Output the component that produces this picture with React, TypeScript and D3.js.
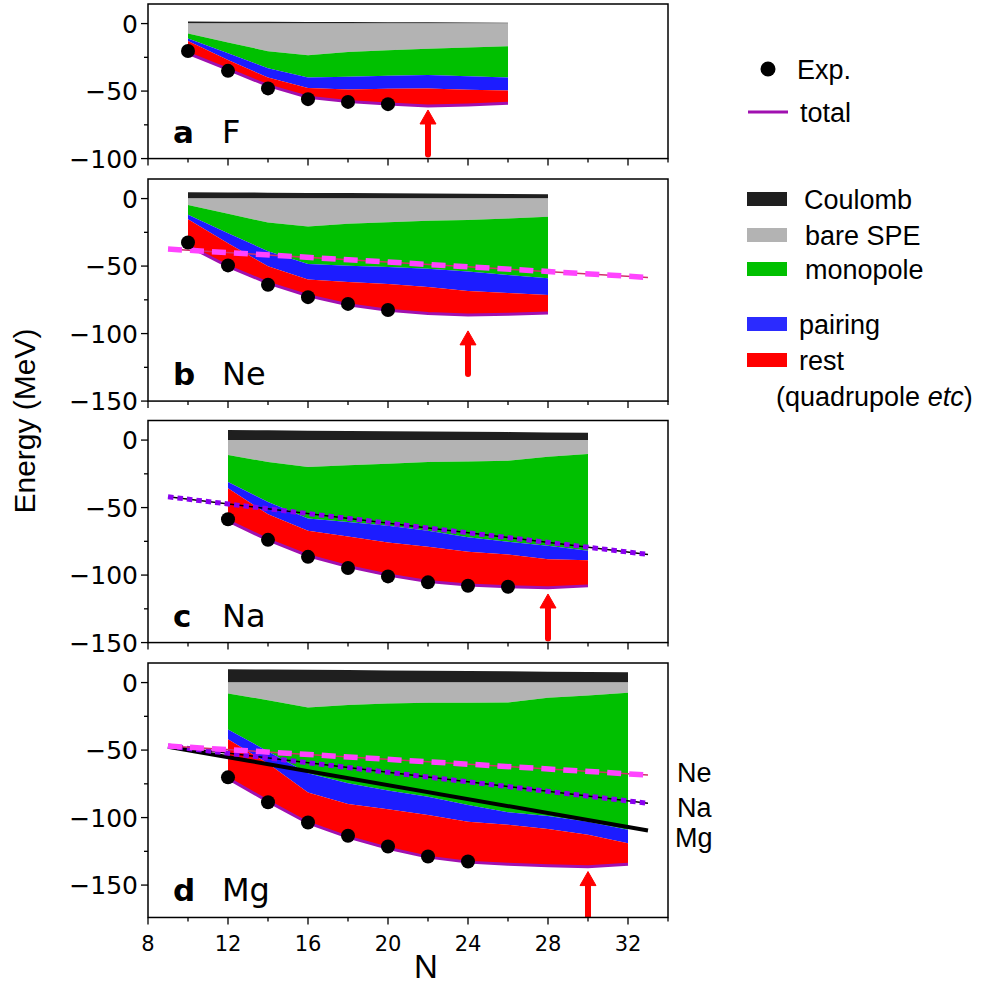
import React from "react";
import * as d3 from "d3";

// ---------------- data ----------------
const N_F = [10, 12, 14, 16, 18, 20, 22, 24, 26];
const F_coul = [1.5, 1.4, 1.3, 1.2, 1.1, 1.0, 0.9, 0.8, 0.7];
const F_spe = [-7.4, -14, -20.5, -23.5, -21, -19.8, -18.6, -17.8, -16.8];
const F_mono = [-11.1, -22, -33, -40, -39.4, -38.6, -38, -39, -40];
const F_pair = [-12.9, -27, -40, -47.8, -48.8, -48.3, -48, -49, -49.5];
const F_total = [-22, -34, -46, -54.5, -57.7, -59.6, -61, -60.3, -59];
const F_expN = [10, 12, 14, 16, 18, 20];
const F_exp = [-20.3, -35, -48, -56, -58, -59.7];

const N_Ne = [10, 12, 14, 16, 18, 20, 22, 24, 26, 28];
const Ne_coul = [4.7, 4.5, 4.4, 4.2, 4.1, 4.0, 3.8, 3.6, 3.4, 3.2];
const Ne_spe = [-4.7, -11.3, -17.7, -20.7, -18.7, -17.5, -16.5, -15.8, -14.8, -13.5];
const Ne_mono = [-12, -25.6, -39, -48.5, -49.8, -50.7, -52, -54, -56.7, -59];
const Ne_pair = [-15.3, -33, -50.2, -60, -61.8, -63.3, -65.5, -68.5, -70, -71.4];
const Ne_total = [-35, -50.2, -62.6, -72, -78.6, -82.8, -85.2, -86.2, -85.7, -84.7];
const Ne_expN = [10, 12, 14, 16, 18, 20];
const Ne_exp = [-32.5, -49.5, -63.8, -73, -78, -82.5];

const N_Na = [12, 14, 16, 18, 20, 22, 24, 26, 28, 30];
const Na_coul = [7.4, 7.2, 7.0, 6.8, 6.6, 6.3, 6.1, 5.9, 5.6, 5.4];
const Na_spe = [-11, -16.3, -20, -18.7, -17.5, -16.3, -15.8, -15.3, -12.3, -10.3];
const Na_mono = [-31, -45.8, -58, -60.6, -63.5, -67.2, -72, -75.4, -78.3, -82];
const Na_pair = [-35.7, -55, -67.2, -71.4, -75.9, -79, -82.8, -84.7, -88.2, -89];
const Na_total = [-59.8, -74, -85.7, -93.6, -100, -104.7, -107.4, -108.6, -109.4, -108];
const Na_expN = [12, 14, 16, 18, 20, 22, 24, 26];
const Na_exp = [-58.6, -73.9, -86.5, -94.8, -101, -105.4, -107.9, -108.6];

const N_Mg = [12, 14, 16, 18, 20, 22, 24, 26, 28, 30, 32];
const Mg_coul = [9.9, 9.7, 9.5, 9.3, 9.0, 8.8, 8.6, 8.4, 8.1, 7.9, 7.6];
const Mg_spe = [-8.1, -13, -18.5, -16.7, -15.5, -15, -15, -14.8, -11.3, -9.6, -7.6];
const Mg_mono = [-34.7, -51, -67.2, -74.6, -80, -84.5, -90.6, -96, -98.8, -103, -109];
const Mg_pair = [-42, -60, -81.5, -90, -93.8, -98, -103, -105.4, -108.4, -112.8, -119];
const Mg_total = [-71, -88, -104, -114.5, -122.7, -129.3, -133, -134.5, -135.7, -136.5, -134.5];
const Mg_expN = [12, 14, 16, 18, 20, 22, 24];
const Mg_exp = [-70.2, -88.7, -103.7, -113.5, -121.4, -128.8, -132.5];

// straight reference lines (N = 9 .. 33)
const refLineN = [9, 33];
const refNe_b = [-37.4, -58.4];
const refNa_c = [-42, -84.7];
const refNe_d = [-47, -68.5];
const refNa_d = [-47, -89.4];
const refMg_d = [-47.5, -109.6];

// drip-line arrows: N, head energy, tail energy
const arrowN = [22, 24, 28, 30];
const arrowHead = [-64, -98, -114, -140];
const arrowTail = [-97, -130, -147, -173];

const panelLetters = ["a", "b", "c", "d"];
const panelElements = ["F", "Ne", "Na", "Mg"];
const xTickLabels = [8, 12, 16, 20, 24, 28, 32];

// ---------------- styling ----------------
const C_COUL = "#1f1f1f";
const C_SPE = "#b3b3b3";
const C_MONO = "#00c000";
const C_PAIR = "#1c1cff";
const C_REST = "#ff0000";
const C_TOTAL = "#a010b0";
const SANS = "'Liberation Sans', Arial, sans-serif";
const DJ = "'DejaVu Sans', sans-serif";

const PX_PER_MEV = 1.35;
const Y_MAX = 14.5;

type LineDef = { kind: "Ne" | "Na" | "Mg"; y: number[] };

const panels = [
  { top: 4, yMin: -100, N: N_F, coul: F_coul, spe: F_spe, mono: F_mono, pair: F_pair, total: F_total, expN: F_expN, exp: F_exp, lines: [] as LineDef[] },
  { top: 179, yMin: -150, N: N_Ne, coul: Ne_coul, spe: Ne_spe, mono: Ne_mono, pair: Ne_pair, total: Ne_total, expN: Ne_expN, exp: Ne_exp, lines: [{ kind: "Ne", y: refNe_b }] as LineDef[] },
  { top: 420.5, yMin: -150, N: N_Na, coul: Na_coul, spe: Na_spe, mono: Na_mono, pair: Na_pair, total: Na_total, expN: Na_expN, exp: Na_exp, lines: [{ kind: "Na", y: refNa_c }] as LineDef[] },
  { top: 663, yMin: -174, N: N_Mg, coul: Mg_coul, spe: Mg_spe, mono: Mg_mono, pair: Mg_pair, total: Mg_total, expN: Mg_expN, exp: Mg_exp, lines: [{ kind: "Mg", y: refMg_d }, { kind: "Na", y: refNa_d }, { kind: "Ne", y: refNe_d }] as LineDef[] },
];

const X0 = 148;
const X1 = 668;
const x = d3.scaleLinear().domain([8, 34]).range([X0, X1]);

function RefLine({ def, y }: { def: LineDef; y: d3.ScaleLinear<number, number> }) {
  const pts: [number, number][] = refLineN.map((n, i) => [x(n), y(def.y[i])]);
  const d = d3.line()(pts) as string;
  if (def.kind === "Mg") {
    return <path d={d} stroke="#000" strokeWidth={4} fill="none" />;
  }
  if (def.kind === "Ne") {
    return (
      <g>
        <path d={d} stroke="#d0306a" strokeWidth={1.5} fill="none" />
        <path d={d} stroke="#ff44ff" strokeWidth={5.5} strokeDasharray="14 8" fill="none" />
      </g>
    );
  }
  return (
    <g>
      <path d={d} stroke="#000" strokeWidth={1.5} fill="none" />
      <path d={d} stroke="#8a00f0" strokeWidth={5} strokeDasharray="5.5 4" fill="none" />
    </g>
  );
}

function Panel({ p, idx }: { p: (typeof panels)[number]; idx: number }) {
  const bottom = p.top + (Y_MAX - p.yMin) * PX_PER_MEV;
  const y = d3.scaleLinear().domain([p.yMin, Y_MAX]).range([bottom, p.top]);
  const band = (lo: number[], hi: number[]) =>
    d3
      .area<number>()
      .x((n) => x(n))
      .y0((_, i) => y(lo[i]))
      .y1((_, i) => y(hi[i]))(p.N) as string;
  const zeros = p.N.map(() => 0);
  const totalLine = d3
    .line<number>()
    .x((n) => x(n))
    .y((_, i) => y(p.total[i]))(p.N) as string;

  const yTicks = d3.range(0, p.yMin - 1, -25);
  const xTicks = d3.range(8, 35, 2);
  const isLast = idx === panels.length - 1;
  const clipId = `clip${idx}`;

  const aX = x(arrowN[idx]);
  const aHead = y(arrowHead[idx]);
  const aTail = y(arrowTail[idx]);

  return (
    <g>
      <defs>
        <clipPath id={clipId}>
          <rect x={X0} y={p.top} width={X1 - X0} height={bottom - p.top} />
        </clipPath>
      </defs>
      <g clipPath={`url(#${clipId})`}>
        <path d={band(zeros, p.coul)} fill={C_COUL} />
        <path d={band(p.spe, zeros)} fill={C_SPE} />
        <path d={band(p.mono, p.spe)} fill={C_MONO} />
        <path d={band(p.pair, p.mono)} fill={C_PAIR} />
        <path d={band(p.total, p.pair)} fill={C_REST} />
        <path d={totalLine} stroke={C_TOTAL} strokeWidth={3} fill="none" />
        {p.lines.map((l, i) => (
          <RefLine key={i} def={l} y={y} />
        ))}
        {p.expN.map((n, i) => (
          <circle key={i} cx={x(n)} cy={y(p.exp[i])} r={7} fill="#000" />
        ))}
        {/* arrow */}
        <line x1={aX} x2={aX} y1={aTail} y2={aHead + 11} stroke="#ff0000" strokeWidth={6} strokeLinecap="round" />
        <path d={`M${aX},${aHead} L${aX - 8},${aHead + 14} L${aX + 8},${aHead + 14} Z`} fill="#ff0000" stroke="#ff0000" strokeWidth={1} strokeLinejoin="round" />
      </g>
      {/* frame */}
      <rect x={X0} y={p.top} width={X1 - X0} height={bottom - p.top} fill="none" stroke="#000" strokeWidth={1.5} />
      {/* y ticks */}
      {yTicks.map((t) => {
        const major = t % 50 === 0;
        return (
          <g key={t}>
            <line x1={X0} x2={X0 - (major ? 7 : 4)} y1={y(t)} y2={y(t)} stroke="#000" strokeWidth={1.3} />
            {major && (
              <text x={X0 - 10} y={y(t)} dy="0.36em" textAnchor="end" fontFamily={DJ} fontSize={25} fill="#000">
                {t < 0 ? `\u2212${-t}` : `${t}`}
              </text>
            )}
          </g>
        );
      })}
      {/* x ticks */}
      {xTicks.map((t) => {
        const major = (t - 8) % 4 === 0;
        return <line key={t} x1={x(t)} x2={x(t)} y1={bottom} y2={bottom + (major ? 7 : 4)} stroke="#000" strokeWidth={1.3} />;
      })}
      {isLast &&
        xTickLabels.map((t) => (
          <text key={t} x={x(t)} y={bottom + 34} textAnchor="middle" fontFamily={DJ} fontSize={21} fill="#000">
            {t}
          </text>
        ))}
      {/* panel label */}
      <text x={173} y={bottom - 16} fontFamily={DJ} fontSize={31} fontWeight="bold" fill="#000">
        {panelLetters[idx]}
      </text>
      <text x={222} y={bottom - 16} fontFamily={DJ} fontSize={32} fill="#000">
        {panelElements[idx]}
      </text>
    </g>
  );
}

const legendPatches = [
  { label: "Coulomb", color: C_COUL, cy: 199, tx: 804 },
  { label: "bare SPE", color: C_SPE, cy: 235, tx: 805 },
  { label: "monopole", color: C_MONO, cy: 269, tx: 805 },
  { label: "pairing", color: "#2b2bff", cy: 324, tx: 799 },
  { label: "rest", color: C_REST, cy: 360, tx: 799 },
];

export default function App() {
  return (
    <svg
      width={985}
      height={984}
      viewBox="0 0 985 984"
      style={{ position: "absolute", left: 0, top: 0, background: "#fff" }}
    >
      <rect width={985} height={984} fill="#fff" />
      {panels.map((p, i) => (
        <Panel key={i} p={p} idx={i} />
      ))}
      {/* axis labels */}
      <text transform="translate(35,421) rotate(-90)" textAnchor="middle" fontFamily={SANS} fontSize={30} fill="#000">
        Energy (MeV)
      </text>
      <text x={426} y={978} textAnchor="middle" fontFamily={SANS} fontSize={33} fill="#000">
        N
      </text>
      {/* right-hand labels for reference lines */}
      <text x={677} y={782} fontFamily={SANS} fontSize={27} fill="#000">Ne</text>
      <text x={677} y={817} fontFamily={SANS} fontSize={27} fill="#000">Na</text>
      <text x={675} y={847} fontFamily={SANS} fontSize={27} fill="#000">Mg</text>
      {/* legend */}
      <circle cx={768} cy={69} r={7.5} fill="#000" />
      <text x={797} y={78.5} fontFamily={SANS} fontSize={27} fill="#000">Exp.</text>
      <line x1={748} x2={788} y1={112} y2={112} stroke={C_TOTAL} strokeWidth={3} />
      <text x={800} y={121.5} fontFamily={SANS} fontSize={27} fill="#000">total</text>
      {legendPatches.map((l) => (
        <g key={l.label}>
          <rect x={747} y={l.cy - 7} width={40} height={14} fill={l.color} />
          <text x={l.tx} y={l.cy + 9.5} fontFamily={SANS} fontSize={27} fill="#000">
            {l.label}
          </text>
        </g>
      ))}
      <text x={776} y={406} fontFamily={SANS} fontSize={27} fill="#000">
        (quadrupole <tspan fontStyle="italic">etc</tspan>)
      </text>
    </svg>
  );
}
